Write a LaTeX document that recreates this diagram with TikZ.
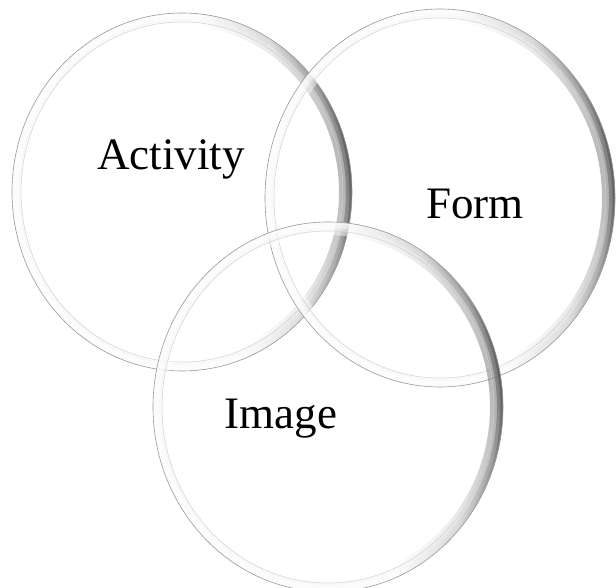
\documentclass[tikz,border=0pt]{standalone}
\usepackage{fontspec}
\setmainfont{Liberation Serif}
\usetikzlibrary{positioning}

% soft shadow that darkens towards the right rim
\pgfdeclarehorizontalshading{glass}{100bp}{color(0bp)=(white); color(25bp)=(white); color(56bp)=(white); color(66bp)=(black!18); color(72bp)=(black!50); color(75bp)=(black!75); color(100bp)=(black!75)}

\tikzset{
  rimline/.style={draw=black!40, line width=0.6pt},
  innerline/.style={draw=black!18, line width=0.5pt},
  band/.style={fill=black!8, fill opacity=0.45, even odd rule},
  rimshade/.style={shading=glass, shading angle=8, fill opacity=0.45, even odd rule},
  word/.style={font=\fontsize{45}{54}\selectfont, anchor=base}
}

% #1 centre, #2 x radius, #3 y radius
\newcommand{\glassring}[3]{%
  \fill[band] (#1) ellipse [x radius=#2, y radius=#3]
              (#1) ellipse [x radius=#2-9, y radius=#3-9];
  \shade[rimshade] (#1) ellipse [x radius=#2, y radius=#3]
                   (#1) ellipse [x radius=#2-13, y radius=#3-13];
  \shade[rimshade] (#1) ellipse [x radius=#2, y radius=#3]
                   (#1) ellipse [x radius=#2-6, y radius=#3-6];
  \shade[rimshade] (#1) ellipse [x radius=#2, y radius=#3]
                   (#1) ellipse [x radius=#2-2.5, y radius=#3-2.5];
  \draw[innerline] (#1) ellipse [x radius=#2-9, y radius=#3-9];
  \draw[rimline] (#1) ellipse [x radius=#2, y radius=#3];
}

\begin{document}
\begin{tikzpicture}[x=1pt, y=1pt]
\useasboundingbox (0,0) rectangle (616,588);
\coordinate (cAct) at (182,396);
\coordinate (cForm) at (440,390);
\coordinate (cImg) at (328,181);

\glassring{cAct}{170}{179}
\glassring{cForm}{175}{189}
\glassring{cImg}{175}{185}

\node[word] (act) at (171,418) {Activity};
\node[word] (form) at (475,369) {Form};
\node[word] (img) at (281,159) {Image};
\end{tikzpicture}
\end{document}
